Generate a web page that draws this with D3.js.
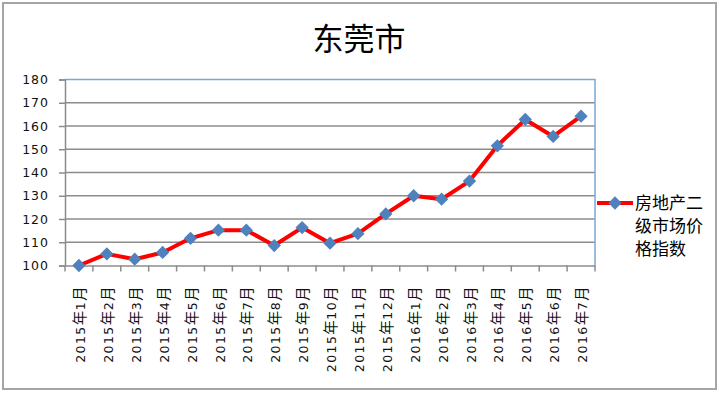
<!DOCTYPE html>
<html>
<head>
<meta charset="utf-8">
<script src="https://cdn.jsdelivr.net/npm/d3@7"></script>
<style>
  html, body { margin: 0; padding: 0; background: #fff; }
  svg { display: block; }
</style>
</head>
<body>
<svg id="chart" width="720" height="393"></svg>
<script>
const title = "东莞市";
const categories = ["2015年1月","2015年2月","2015年3月","2015年4月","2015年5月","2015年6月","2015年7月","2015年8月","2015年9月","2015年10月","2015年11月","2015年12月","2016年1月","2016年2月","2016年3月","2016年4月","2016年5月","2016年6月","2016年7月"];
const values = [100, 105, 102.7, 105.6, 111.7, 115.2, 115.2, 108.6, 116.3, 109.6, 113.7, 122.2, 130, 128.5, 136.3, 151.5, 162.8, 155.5, 164.2];
const yTicks = [100, 110, 120, 130, 140, 150, 160, 170, 180];
const seriesName = ["房地产二", "级市场价", "格指数"];

const svg = d3.select("#chart");
const plot = { left: 65, right: 595, top: 79.5, bottom: 265.5 };
const cjk = "'Noto Sans CJK SC', sans-serif";
const num = "'DejaVu Sans', 'Noto Sans CJK SC', sans-serif";

// outer border
svg.append("rect").attr("x", 3).attr("y", 3).attr("width", 713).attr("height", 386)
  .attr("fill", "#fff").attr("stroke", "#a6a6a6").attr("stroke-width", 2);

// title
svg.append("text").attr("x", 359).attr("y", 50).attr("text-anchor", "middle")
  .attr("font-family", cjk).attr("font-size", 31).attr("fill", "#000").text(title);

const x = d3.scaleBand().domain(categories).range([plot.left, plot.right]);
const y = d3.scaleLinear().domain([100, 180]).range([plot.bottom, plot.top]);

// gridlines
svg.append("g").selectAll("line").data(yTicks.filter(d => d !== 180 && d !== 100)).join("line")
  .attr("x1", plot.left).attr("x2", plot.right)
  .attr("y1", d => y(d)).attr("y2", d => y(d))
  .attr("stroke", "#8c8c8c").attr("stroke-width", 1.5);

// plot border top & right (blue)
svg.append("path")
  .attr("d", `M${plot.left},${y(180)}H${plot.right}V${plot.bottom}`)
  .attr("fill", "none").attr("stroke", "#7ea6d8").attr("stroke-width", 1.5);

// y axis
const yAxis = d3.axisLeft(y).tickValues(yTicks).tickSize(6).tickPadding(10);
const gy = svg.append("g").attr("transform", `translate(${plot.left},0)`).call(yAxis);
gy.select(".domain").attr("stroke", "#8c8c8c").attr("stroke-width", 1.5);
gy.selectAll(".tick line").attr("stroke", "#8c8c8c").attr("stroke-width", 1.5);
gy.selectAll(".tick text").attr("font-family", num).attr("font-size", 12.5)
  .attr("letter-spacing", "1px").attr("fill", "#111").attr("x", -16);

// x axis
const xAxis = d3.axisBottom(x).tickSize(0).tickFormat("");
const gx = svg.append("g").attr("transform", `translate(0,${plot.bottom})`).call(xAxis);
gx.select(".domain").attr("stroke", "#8c8c8c").attr("stroke-width", 1.5);
const bounds = categories.map(c => x(c)).concat([plot.right]);
svg.append("g").selectAll("line").data(bounds).join("line")
  .attr("x1", d => d).attr("x2", d => d)
  .attr("y1", plot.bottom).attr("y2", plot.bottom + 6)
  .attr("stroke", "#8c8c8c").attr("stroke-width", 1.5);

// x labels rotated, digits and CJK in separate runs
const xl = svg.append("g").selectAll("text").data(categories).join("text")
  .attr("transform", d => `translate(${x(d) + x.bandwidth() / 2},286) rotate(-90)`)
  .attr("text-anchor", "end").attr("dy", "0.38em").attr("fill", "#111");
xl.each(function(d) {
  const parts = d.match(/(\d+|[^\d]+)/g);
  const t = d3.select(this);
  parts.forEach(p => {
    const isNum = /\d/.test(p);
    t.append("tspan").text(p)
      .attr("font-family", isNum ? num : cjk)
      .attr("font-size", isNum ? 12.5 : 14.5)
      .attr("letter-spacing", isNum ? "1.4px" : "0.5px");
  });
});

// line
const line = d3.line().x((d, i) => x(categories[i]) + x.bandwidth() / 2).y(d => y(d));
svg.append("path").datum(values).attr("d", line)
  .attr("fill", "none").attr("stroke", "#ff0000").attr("stroke-width", 4)
  .attr("stroke-linejoin", "round");

// markers
const diamond = d3.symbol().type(d3.symbolDiamond2).size(112);
svg.append("g").selectAll("path").data(values).join("path")
  .attr("transform", (d, i) => `translate(${x(categories[i]) + x.bandwidth() / 2},${y(d)})`)
  .attr("d", diamond).attr("fill", "#4f81bd");

// legend
svg.append("line").attr("x1", 597).attr("x2", 633).attr("y1", 203).attr("y2", 203)
  .attr("stroke", "#ff0000").attr("stroke-width", 4);
svg.append("path").attr("transform", "translate(615,203)").attr("d", diamond).attr("fill", "#4f81bd");
svg.append("g").selectAll("text").data(seriesName).join("text")
  .attr("x", 635).attr("y", (d, i) => 209 + i * 23)
  .attr("font-family", cjk).attr("font-size", 17).attr("fill", "#000").text(d => d);
</script>
</body>
</html>
